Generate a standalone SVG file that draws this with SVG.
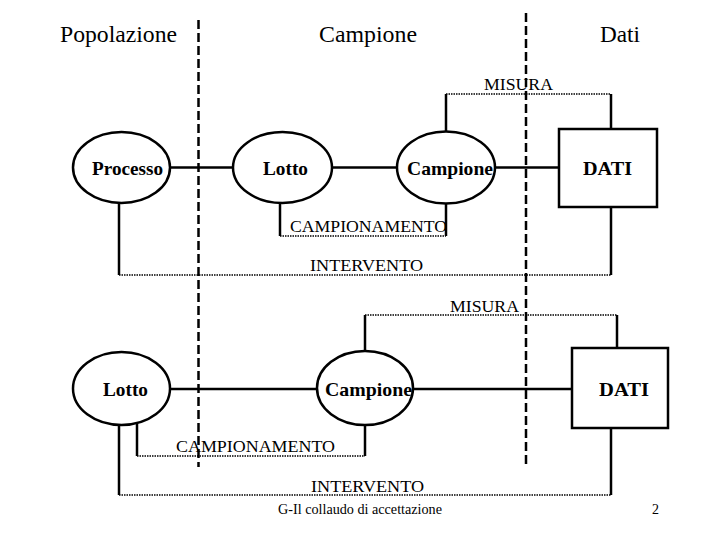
<svg xmlns="http://www.w3.org/2000/svg" width="720" height="540" viewBox="0 0 720 540">
<style>
.bg{fill:#fff}
.node{fill:#fff;stroke:#000;stroke-width:2.5}
.sol{stroke:#000;stroke-width:2.5;fill:none}
.dot{stroke:#000;stroke-width:1.6;stroke-dasharray:1.5 1;fill:none}
.dash{stroke:#000;stroke-width:2.5;stroke-dasharray:9 4;fill:none}
.hdr{font-family:"Liberation Serif","Times New Roman",serif;font-size:24px;fill:#000}
.nl{font-family:"Liberation Serif","Times New Roman",serif;font-size:19px;font-weight:bold;fill:#000;text-anchor:middle}
.lab{font-family:"Liberation Serif","Times New Roman",serif;font-size:17.5px;fill:#000}
.ft{font-family:"Liberation Serif","Times New Roman",serif;font-size:14px;fill:#000}
</style>
<rect class="bg" x="0" y="0" width="720" height="540"/>
<g id="headers">
<text class="hdr" x="60" y="42" textLength="117" lengthAdjust="spacingAndGlyphs">Popolazione</text>
<text class="hdr" x="319" y="42" textLength="98" lengthAdjust="spacingAndGlyphs">Campione</text>
<text class="hdr" x="600" y="42" textLength="40" lengthAdjust="spacingAndGlyphs">Dati</text>
</g>
<g id="connectors">
<line class="sol" x1="170" y1="167.5" x2="233" y2="167.5"/>
<line class="sol" x1="332" y1="167.5" x2="397" y2="167.5"/>
<line class="sol" x1="495" y1="167.5" x2="559" y2="167.5"/>
<polyline class="sol" points="446,131 446,94"/>
<polyline class="sol" points="611,129 611,94"/>
<line class="dot" x1="446" y1="94" x2="611" y2="94"/>
<polyline class="sol" points="280,203 280,236"/>
<polyline class="sol" points="446,204 446,236"/>
<line class="dot" x1="280" y1="236" x2="446" y2="236"/>
<polyline class="sol" points="119,203 119,275"/>
<polyline class="sol" points="611,207 611,275"/>
<line class="dot" x1="119" y1="275" x2="611" y2="275"/>
<line class="sol" x1="170" y1="389" x2="317" y2="389"/>
<line class="sol" x1="413" y1="389" x2="572" y2="389"/>
<polyline class="sol" points="365,351 365,315"/>
<polyline class="sol" points="617,348 617,315"/>
<line class="dot" x1="365" y1="315" x2="617" y2="315"/>
<polyline class="sol" points="137,422 137,456"/>
<polyline class="sol" points="365,425 365,456"/>
<line class="dot" x1="137" y1="456" x2="365" y2="456"/>
<polyline class="sol" points="119,425 119,495"/>
<polyline class="sol" points="611,428 611,495"/>
<line class="dot" x1="119" y1="495" x2="611" y2="495"/>
<text class="lab" x="484" y="90" textLength="69" lengthAdjust="spacingAndGlyphs">MISURA</text>
<text class="lab" x="290" y="232" textLength="157" lengthAdjust="spacingAndGlyphs">CAMPIONAMENTO</text>
<text class="lab" x="310" y="271" textLength="113" lengthAdjust="spacingAndGlyphs">INTERVENTO</text>
<text class="lab" x="450" y="312" textLength="69" lengthAdjust="spacingAndGlyphs">MISURA</text>
<text class="lab" x="176" y="452" textLength="159" lengthAdjust="spacingAndGlyphs">CAMPIONAMENTO</text>
<text class="lab" x="311" y="492" textLength="113" lengthAdjust="spacingAndGlyphs">INTERVENTO</text>
</g>
<g id="processo">
<ellipse class="node" cx="121.5" cy="167.5" rx="48.5" ry="35.5"/>
<text class="nl" x="127.5" y="175" textLength="71" lengthAdjust="spacingAndGlyphs">Processo</text>
</g>
<g id="lotto1">
<ellipse class="node" cx="282.5" cy="167.5" rx="49.5" ry="35.5"/>
<text class="nl" x="285.5" y="175" textLength="45" lengthAdjust="spacingAndGlyphs">Lotto</text>
</g>
<g id="campione1">
<ellipse class="node" cx="446" cy="167.5" rx="49" ry="36"/>
<text class="nl" x="450" y="175" textLength="86" lengthAdjust="spacingAndGlyphs">Campione</text>
</g>
<g id="dati1">
<rect class="node" x="559" y="129" width="98" height="78"/>
<text class="nl" x="607.5" y="175" textLength="49" lengthAdjust="spacingAndGlyphs">DATI</text>
</g>
<g id="lotto2">
<ellipse class="node" cx="121.5" cy="388.5" rx="48.5" ry="36.5"/>
<text class="nl" x="125.5" y="396" textLength="45" lengthAdjust="spacingAndGlyphs">Lotto</text>
</g>
<g id="campione2">
<ellipse class="node" cx="365" cy="388" rx="48" ry="37"/>
<text class="nl" x="368.5" y="396" textLength="87" lengthAdjust="spacingAndGlyphs">Campione</text>
</g>
<g id="dati2">
<rect class="node" x="572" y="348" width="96" height="80"/>
<text class="nl" x="624" y="396" textLength="50" lengthAdjust="spacingAndGlyphs">DATI</text>
</g>
<g id="dividers">
<line class="dash" x1="198.5" y1="20" x2="198.5" y2="467"/>
<line class="dash" x1="526" y1="13" x2="526" y2="468"/>
</g>
<g id="footer">
<text class="ft" x="278" y="514" textLength="164" lengthAdjust="spacingAndGlyphs">G-Il collaudo di accettazione</text>
<text class="ft" x="652" y="514">2</text>
</g>
</svg>
